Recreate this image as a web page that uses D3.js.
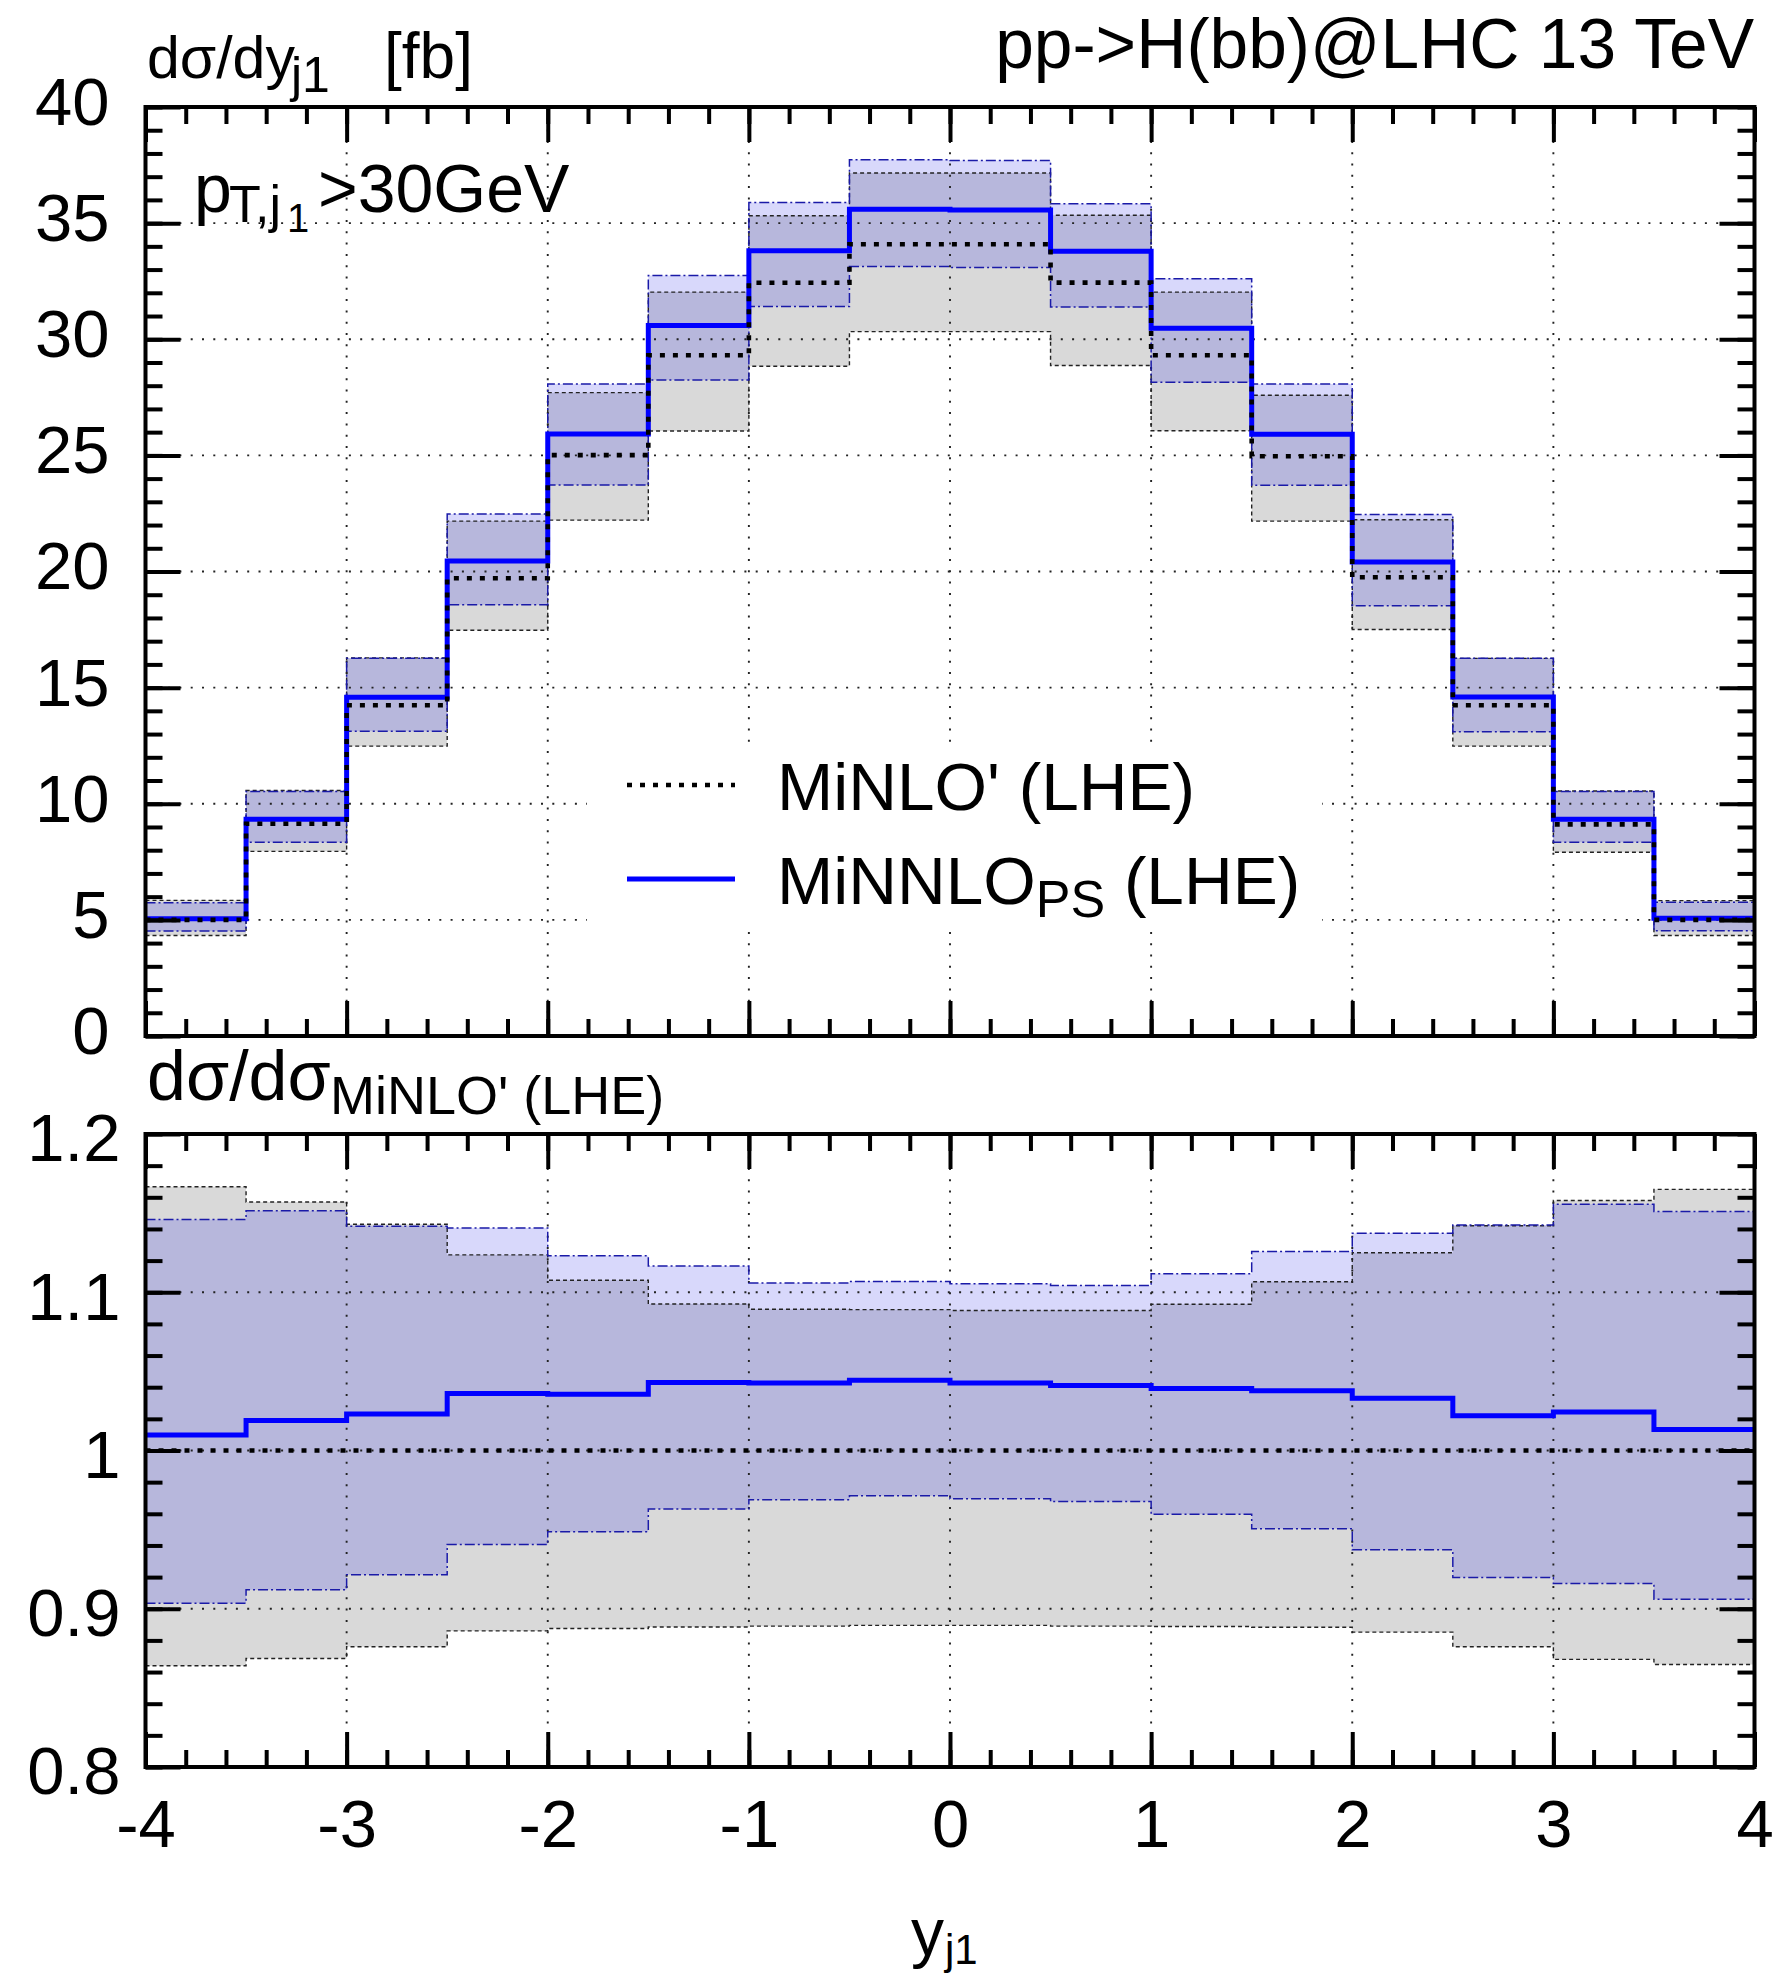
<!DOCTYPE html>
<html><head><meta charset="utf-8">
<script src="https://cdn.jsdelivr.net/npm/d3@7"></script>
<style>
body{margin:0;background:#fff}
svg{display:block}
text{font-family:"Liberation Sans",Arial,Helvetica,sans-serif;fill:#000}
</style></head>
<body><svg id="c" width="1782" height="1974"></svg>
<script>
// ---- data ----
const binEdges = [-4,-3.5,-3,-2.5,-2,-1.5,-1,-0.5,0,0.5,1,1.5,2,2.5,3,3.5,4];
// top panel: dsigma/dy_j1 [fb]
const minloCentral = [5.00, 9.14, 14.24, 19.71, 25.01, 29.31, 32.43, 34.09, 34.09, 32.44, 29.31, 24.96, 19.75, 14.24, 9.11, 5.00];
const minloUpper   = [5.84, 10.57, 16.28, 22.17, 27.70, 32.03, 35.32, 37.16, 37.16, 35.34, 32.03, 27.59, 22.23, 16.26, 10.55, 5.83];
const minloLower   = [4.33, 7.95, 12.48, 17.47, 22.21, 26.05, 28.84, 30.33, 30.33, 28.87, 26.06, 22.17, 17.50, 12.48, 7.91, 4.33];
const minnloCentral= [5.05, 9.33, 14.59, 20.45, 25.92, 30.59, 33.81, 35.60, 35.57, 33.79, 30.47, 25.91, 20.41, 14.60, 9.33, 5.07];
const minnloUpper  = [5.74, 10.53, 16.26, 22.48, 28.07, 32.74, 35.89, 37.73, 37.70, 35.83, 32.60, 28.07, 22.45, 16.27, 10.53, 5.76];
const minnloLower  = [4.52, 8.34, 13.12, 18.57, 23.72, 28.25, 31.41, 33.13, 33.09, 31.39, 28.15, 23.71, 18.52, 13.10, 8.34, 4.53];
// ratio panel: dsigma/dsigma_MiNLO'
const ratioMinloCentral = [1,1,1,1,1,1,1,1,1,1,1,1,1,1,1,1];
const ratioMinloUpper   = [1.1667, 1.157, 1.143, 1.1236, 1.1076, 1.0926, 1.0893, 1.089, 1.0885, 1.0885, 1.0924, 1.1066, 1.125, 1.142, 1.158, 1.165];
const ratioMinloLower   = [0.864, 0.8686, 0.876, 0.886, 0.8875, 0.8885, 0.889, 0.8895, 0.8895, 0.889, 0.8888, 0.8883, 0.8852, 0.876, 0.868, 0.8648];
const ratioMinnloCentral= [1.0098, 1.019, 1.023, 1.036, 1.0356, 1.043, 1.0426, 1.0444, 1.0426, 1.041, 1.0392, 1.0377, 1.033, 1.022, 1.0243, 1.0132];
const ratioMinnloUpper  = [1.146, 1.1515, 1.1417, 1.1406, 1.123, 1.1166, 1.1058, 1.1068, 1.1053, 1.1043, 1.1117, 1.1257, 1.1373, 1.1425, 1.1556, 1.151];
const ratioMinnloLower  = [0.9035, 0.912, 0.9215, 0.9406, 0.9486, 0.963, 0.9688, 0.9714, 0.9695, 0.9677, 0.9597, 0.9505, 0.9373, 0.9197, 0.916, 0.906];
// ticks
const xMajorTicks = [-4,-3,-2,-1,0,1,2,3,4];
const xTickLabels = ["-4","-3","-2","-1","0","1","2","3","4"];
const topMajorTicks = [0,5,10,15,20,25,30,35,40];
const topTickLabels = ["0","5","10","15","20","25","30","35","40"];
const botMajorTicks = [0.8,0.9,1.0,1.1,1.2];
const botTickLabels = ["0.8","0.9","1","1.1","1.2"];

// ---- layout ----
const X0 = 145.5, X1 = 1754.5;
const x = d3.scaleLinear().domain([-4,4]).range([X0,X1]);
const yT = d3.scaleLinear().domain([0,40]).range([1036,107]);
const yB = d3.scaleLinear().domain([0.8,1.2]).range([1767,1134]);
const FONT = '"Liberation Sans",Arial,Helvetica,sans-serif';

const svg = d3.select('#c');
const defs = svg.append('defs');

const C_GRAY = '#d9d9d9', C_BLUE = '#d8d8fb', C_OVER = '#b7b7dc';
const DOT = '5,8';

function pts(lo, hi){
  return binEdges.map((e,i)=>{ const k=Math.min(i,lo.length-1); return {e, lo:lo[k], hi:hi[k]}; });
}
function stepLine(y, vals){
  const p = binEdges.map((e,i)=>[x(e), y(vals[Math.min(i,vals.length-1)])]);
  return d3.line().curve(d3.curveStepAfter)(p);
}

function panel(id, y, majors, minorStep, data, labels, labelPad, labelDy){
  const [r0,r1] = y.range();
  const cp = defs.append('clipPath').attr('id','clip'+id);
  cp.append('rect').attr('x',X0).attr('y',r1).attr('width',X1-X0).attr('height',r0-r1);
  const g = svg.append('g');
  const gc = g.append('g').attr('clip-path','url(#clip'+id+')');

  const area = d3.area().x(d=>x(d.e)).y0(d=>y(d.lo)).y1(d=>y(d.hi)).curve(d3.curveStepAfter);
  gc.append('path').attr('d', area(pts(data.mLo, data.mHi))).attr('fill', C_GRAY);
  gc.append('path').attr('d', area(pts(data.nLo, data.nHi))).attr('fill', C_BLUE);
  const oLo = data.mLo.map((v,i)=>Math.max(v, data.nLo[i]));
  const oHi = data.mHi.map((v,i)=>Math.min(v, data.nHi[i]));
  gc.append('path').attr('d', area(pts(oLo, oHi))).attr('fill', C_OVER);

  const grid = gc.append('g').attr('stroke','#222').attr('stroke-width',1.9).attr('stroke-dasharray','2,9.3');
  grid.selectAll('.gx').data(xMajorTicks.slice(1,-1)).join('line')
    .attr('x1',d=>x(d)).attr('x2',d=>x(d)).attr('y1',r1).attr('y2',r0);
  grid.selectAll('.gy').data(majors.slice(1,-1)).join('line')
    .attr('y1',d=>y(d)).attr('y2',d=>y(d)).attr('x1',X0).attr('x2',X1);

  gc.append('path').attr('d', stepLine(y, data.mLo)).attr('fill','none').attr('stroke','#222').attr('stroke-width',1.4).attr('stroke-dasharray','4,3');
  gc.append('path').attr('d', stepLine(y, data.mHi)).attr('fill','none').attr('stroke','#222').attr('stroke-width',1.4).attr('stroke-dasharray','4,3');
  gc.append('path').attr('d', stepLine(y, data.nLo)).attr('fill','none').attr('stroke','#1a1aa8').attr('stroke-width',1.5).attr('stroke-dasharray','10,3,2,3');
  gc.append('path').attr('d', stepLine(y, data.nHi)).attr('fill','none').attr('stroke','#1a1aa8').attr('stroke-width',1.5).attr('stroke-dasharray','10,3,2,3');

  gc.append('path').attr('d', stepLine(y, data.nC)).attr('fill','none').attr('stroke','#0000ff').attr('stroke-width',5);
  gc.append('path').attr('d', stepLine(y, data.mC)).attr('fill','none').attr('stroke','#000').attr('stroke-width',4.6).attr('stroke-dasharray',DOT);

  g.append('g').attr('class','overlay');

  const dom = y.domain();
  const minors = d3.range(dom[0], dom[1]+minorStep/2, minorStep);
  const xMinors = d3.range(-4, 4.0001, 0.2);
  function styleAx(sel){ sel.select('.domain').remove(); sel.selectAll('line').attr('stroke','#000').attr('stroke-width',4); }
  g.append('g').attr('transform',`translate(${X0},0)`).call(d3.axisLeft(y).tickValues(minors).tickSize(-17).tickFormat('')).call(styleAx);
  g.append('g').attr('transform',`translate(${X0},0)`).call(d3.axisLeft(y).tickValues(majors).tickSize(-35).tickFormat('')).call(styleAx);
  g.append('g').attr('transform',`translate(${X1},0)`).call(d3.axisRight(y).tickValues(minors).tickSize(-17).tickFormat('')).call(styleAx);
  g.append('g').attr('transform',`translate(${X1},0)`).call(d3.axisRight(y).tickValues(majors).tickSize(-35).tickFormat('')).call(styleAx);
  g.append('g').attr('transform',`translate(0,${r0})`).call(d3.axisBottom(x).tickValues(xMinors).tickSize(-17).tickFormat('')).call(styleAx);
  g.append('g').attr('transform',`translate(0,${r0})`).call(d3.axisBottom(x).tickValues(xMajorTicks).tickSize(-35).tickFormat('')).call(styleAx);
  g.append('g').attr('transform',`translate(0,${r1})`).call(d3.axisTop(x).tickValues(xMinors).tickSize(-17).tickFormat('')).call(styleAx);
  g.append('g').attr('transform',`translate(0,${r1})`).call(d3.axisTop(x).tickValues(xMajorTicks).tickSize(-35).tickFormat('')).call(styleAx);

  const yl = g.append('g').attr('transform',`translate(${X0},0)`)
    .call(d3.axisLeft(y).tickValues(majors).tickSize(0).tickPadding(labelPad).tickFormat((d,i)=>labels[i]));
  yl.select('.domain').remove();
  yl.selectAll('text').attr('font-family',FONT).attr('font-size',67).attr('fill','#000').attr('dy',labelDy);

  g.append('rect').attr('x',X0).attr('y',r1).attr('width',X1-X0).attr('height',r0-r1)
    .attr('fill','none').attr('stroke','#000').attr('stroke-width',4);
  return g;
}

const topG = panel('T', yT, topMajorTicks, 1,
  {mC:minloCentral, mLo:minloLower, mHi:minloUpper, nC:minnloCentral, nLo:minnloLower, nHi:minnloUpper},
  topTickLabels, 36, '0.26em');
const botG = panel('B', yB, botMajorTicks, 0.02,
  {mC:ratioMinloCentral, mLo:ratioMinloLower, mHi:ratioMinloUpper, nC:ratioMinnloCentral, nLo:ratioMinnloLower, nHi:ratioMinnloUpper},
  botTickLabels, 25, '0.40em');

const xl = svg.append('g').attr('transform',`translate(0,${yB.range()[0]})`)
  .call(d3.axisBottom(x).tickValues(xMajorTicks).tickSize(0).tickPadding(32).tickFormat((d,i)=>xTickLabels[i]));
xl.select('.domain').remove();
xl.selectAll('text').attr('font-family',FONT).attr('font-size',67).attr('fill','#000');

// legend (opaque key box)
const key = topG.select('.overlay');
key.append('rect').attr('x',587).attr('y',748).attr('width',735).attr('height',182).attr('fill','#fff');
key.append('line').attr('x1',627).attr('x2',735).attr('y1',785).attr('y2',785)
  .attr('stroke','#000').attr('stroke-width',4.6).attr('stroke-dasharray',DOT);
key.append('line').attr('x1',627).attr('x2',735).attr('y1',879).attr('y2',879)
  .attr('stroke','#0000ff').attr('stroke-width',5);
key.append('text').attr('x',777).attr('y',810).attr('font-size',67.5).text("MiNLO' (LHE)");
const t2 = key.append('text').attr('x',777).attr('y',904).attr('font-size',67.5);
t2.append('tspan').text('MiNNLO');
t2.append('tspan').attr('font-size',52).attr('dy',13).text('PS');
t2.append('tspan').attr('dy',-13).text(' (LHE)');

// labels
const lab = svg.append('g');
lab.append('text').attr('x',147).attr('y',78).attr('font-size',59).text('dσ/dy');
lab.append('text').attr('x',291).attr('y',92).attr('font-size',50).text('j1');
lab.append('text').attr('x',384).attr('y',78).attr('font-size',64).text('[fb]');
lab.append('text').attr('x',1754).attr('y',68).attr('font-size',69.5).attr('text-anchor','end').text('pp->H(bb)@LHC 13 TeV');

lab.append('text').attr('x',194).attr('y',212).attr('font-size',68).text('p');
lab.append('text').attr('x',229).attr('y',222).attr('font-size',52).text('T,j');
lab.append('text').attr('x',287).attr('y',232).attr('font-size',40).text('1');
lab.append('text').attr('x',318).attr('y',212).attr('font-size',68).text('>30GeV');

lab.append('text').attr('x',147).attr('y',1100).attr('font-size',70).text('dσ/dσ');
lab.append('text').attr('x',330).attr('y',1114).attr('font-size',54).text("MiNLO' (LHE)");

lab.append('text').attr('x',911).attr('y',1955).attr('font-size',66).text('y');
lab.append('text').attr('x',945).attr('y',1964).attr('font-size',42).text('j1');
</script>
</body></html>
